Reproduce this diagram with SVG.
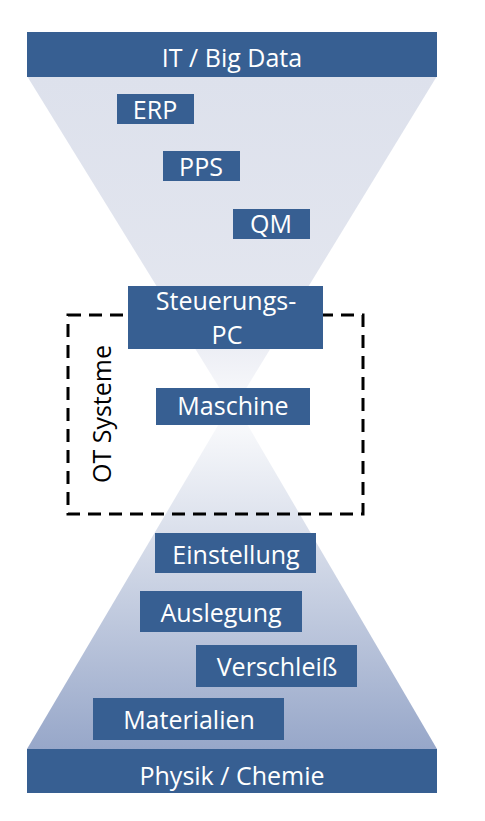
<svg xmlns="http://www.w3.org/2000/svg" width="485" height="821" viewBox="0 0 485 821">
<style>
.box{fill:#375f92}
.t{fill:#ffffff;font-family:"Open Sans","Noto Sans",sans-serif;font-size:25px;text-anchor:middle}
</style>
<defs>
<linearGradient id="gTop" x1="0" y1="76" x2="0" y2="410" gradientUnits="userSpaceOnUse">
<stop offset="0" stop-color="#dde1ec"/>
<stop offset="0.7" stop-color="#e3e6ef"/>
<stop offset="1" stop-color="#fbfbfd"/>
</linearGradient>
<linearGradient id="gBot" x1="0" y1="400" x2="0" y2="749" gradientUnits="userSpaceOnUse">
<stop offset="0" stop-color="#ffffff"/>
<stop offset="0.35" stop-color="#dde2ed"/>
<stop offset="1" stop-color="#97a7c9"/>
</linearGradient>
</defs>
<rect width="485" height="821" fill="#ffffff"/>
<polygon points="27,76 437,76 233,410" fill="url(#gTop)"/>
<polygon points="233,400 27,749 437,749" fill="url(#gBot)"/>
<g id="connectors"></g>
<g id="ot-systeme">
<rect x="68" y="315" width="295" height="199" fill="none" stroke="#000" stroke-width="3" stroke-dasharray="13,8"/>
<text x="111" y="414" transform="rotate(-90 111 414)" style="fill:#000;font-family:'Open Sans','Noto Sans',sans-serif;font-size:25px;text-anchor:middle">OT Systeme</text>
</g>
<g id="it"><rect class="box" x="27" y="32" width="410" height="45"/><text class="t" x="232" y="67">IT / Big Data</text></g>
<g id="erp"><rect class="box" x="117" y="94" width="77" height="30"/><text class="t" x="155" y="119">ERP</text></g>
<g id="pps"><rect class="box" x="163" y="151" width="77" height="30"/><text class="t" x="201" y="176">PPS</text></g>
<g id="qm"><rect class="box" x="233" y="209" width="77" height="30"/><text class="t" x="271" y="233">QM</text></g>
<g id="steuerungs-pc"><rect class="box" x="128" y="286" width="195" height="63"/><text class="t" x="226" y="310">Steuerungs-</text><text class="t" x="227" y="344">PC</text></g>
<g id="maschine"><rect class="box" x="156" y="388" width="154" height="37"/><text class="t" x="233" y="415">Maschine</text></g>
<g id="einstellung"><rect class="box" x="155" y="533" width="161" height="40"/><text class="t" x="236" y="564">Einstellung</text></g>
<g id="auslegung"><rect class="box" x="140" y="591" width="162" height="41"/><text class="t" x="221" y="622">Auslegung</text></g>
<g id="verschleiss"><rect class="box" x="196" y="645" width="161" height="42"/><text class="t" x="277" y="676">Verschleiß</text></g>
<g id="materialien"><rect class="box" x="93" y="698" width="191" height="42"/><text class="t" x="189" y="729">Materialien</text></g>
<g id="physik"><rect class="box" x="27" y="749" width="410" height="44"/><text class="t" x="232" y="785">Physik / Chemie</text></g>
</svg>
